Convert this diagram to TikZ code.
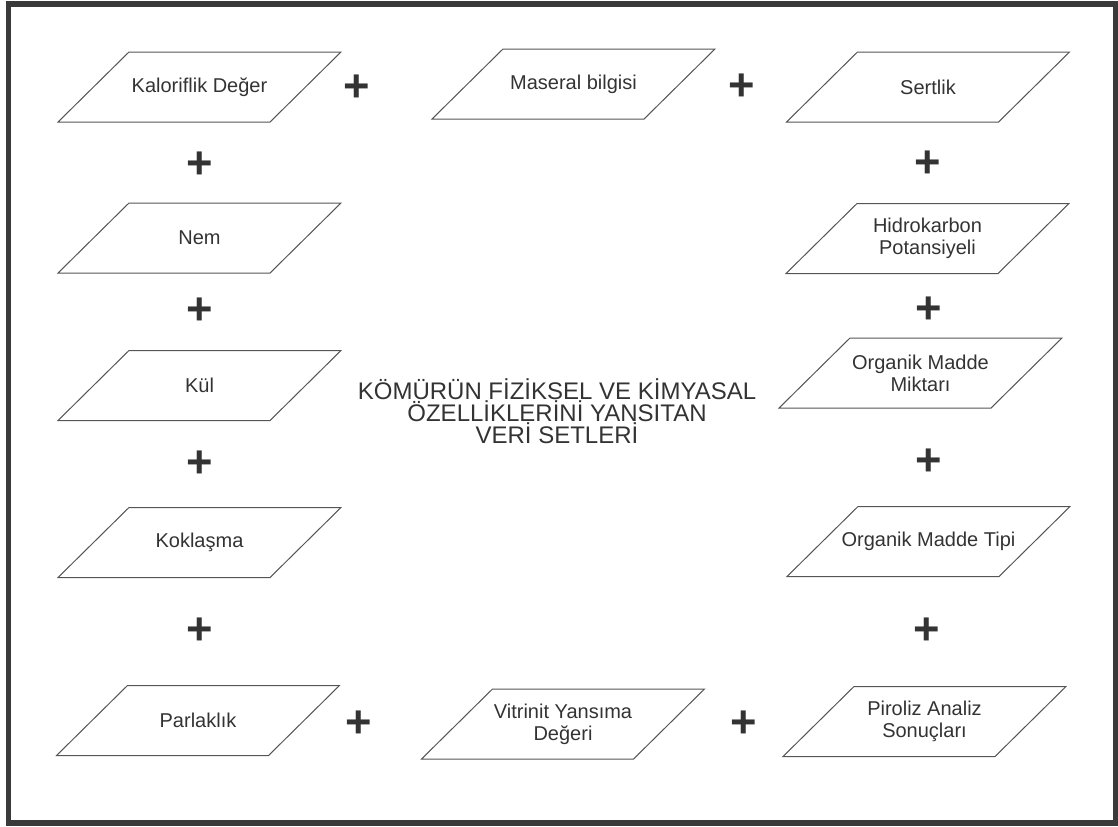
\documentclass[tikz,border=0pt]{standalone}
\usepackage{fontspec}
\setmainfont{Liberation Sans}
\usepackage{xcolor}
\definecolor{framegray}{HTML}{3A3A3A}
\definecolor{boxgray}{HTML}{555555}
\definecolor{textgray}{HTML}{333333}
\tikzset{
  veri/.style={rectangle, minimum width=159pt, minimum height=52.5pt,
    inner sep=0pt, outer sep=0pt,
    text=textgray, align=center, font=\fontsize{15}{16.5}\selectfont},
  kenar/.style={draw=boxgray, line width=0.75pt, line join=miter},
  arti/.style={text=textgray, inner sep=0pt, yshift=-2pt,
    font=\fontsize{34}{34}\selectfont\bfseries}
}

\begin{document}
\begin{tikzpicture}[x=0.75pt,y=-0.75pt]
\useasboundingbox (0,0) rectangle (1118,826);
\draw[framegray, line width=4.2pt] (8.5,4) rectangle (1115.5,823);
% left column
\node[veri] (kalori) at (199.5,87) {Kaloriflik Değer};
\node[veri] (nem) at (199.5,238) {Nem};
\node[veri] (kul) at (199.5,385.5) {Kül};
\node[veri] (kokla) at (199.5,542.5) {Koklaşma};
\node[veri] (parlak) at (198,720.5) {Parlaklık};
% middle
\node[veri] (maseral) at (573.5,84) {Maseral bilgisi};
\node[veri] (vitrinit) at (563,724) {Vitrinit Yansıma\\Değeri};
% right column
\node[veri] (sertlik) at (928,87) {Sertlik};
\node[veri] (hidro) at (927.5,238.5) {Hidrokarbon\\Potansiyeli};
\node[veri] (ommiktar) at (920.5,373) {Organik Madde\\Miktarı};
\node[veri] (omtip) at (928.5,541.5) {Organik Madde Tipi};
\node[veri] (piroliz) at (924.5,721.5) {Piroliz Analiz\\Sonuçları};
% slanted outlines
\foreach \n in {kalori,nem,kul,kokla,parlak,maseral,vitrinit,sertlik,hidro,ommiktar,omtip,piroliz}
  \draw[kenar] ([xshift=-26.6pt]\n.south west) -- ([xshift=-26.6pt]\n.south east)
    -- ([xshift=26.6pt]\n.north east) -- ([xshift=26.6pt]\n.north west) -- cycle;
% plus signs
\node[arti] (p1) at (357,86) {+};
\node[arti] (p2) at (742,85) {+};
\node[arti] (p3) at (200,163) {+};
\node[arti] (p4) at (200,309) {+};
\node[arti] (p5) at (200,462) {+};
\node[arti] (p6) at (200,629) {+};
\node[arti] (p7) at (359,722) {+};
\node[arti] (p8) at (744,722) {+};
\node[arti] (p9) at (928,162) {+};
\node[arti] (p10) at (929,308) {+};
\node[arti] (p11) at (929,460) {+};
\node[arti] (p12) at (927,629) {+};
% title
\node[text=textgray, align=center, font=\fontsize{18}{16.5}\selectfont] (baslik) at (557,411)
  {KÖMÜRÜN FİZİKSEL VE KİMYASAL\\ÖZELLİKLERİNİ YANSITAN\\VERİ SETLERİ};
\end{tikzpicture}
\end{document}
